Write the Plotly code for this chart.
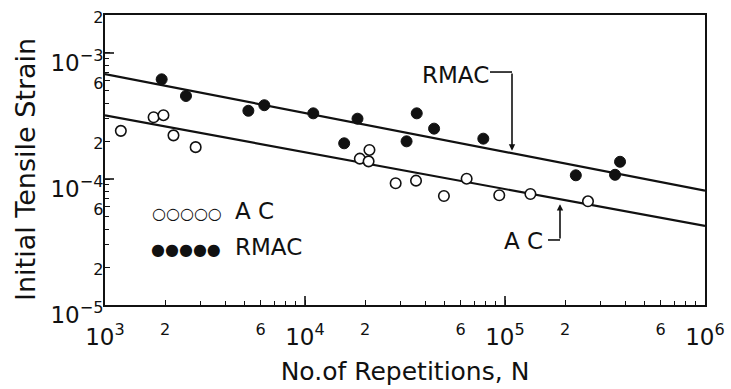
import plotly.graph_objects as go
import math

# ---- data ----
ac_N = [1200, 1750, 1960, 2200, 2840, 18800, 21000, 20800, 28400, 35900, 49500, 64300, 93600, 134000, 260000]
ac_eps = [2.41e-4, 3.09e-4, 3.21e-4, 2.22e-4, 1.79e-4, 1.45e-4, 1.70e-4, 1.38e-4, 9.25e-5, 9.70e-5,
          7.33e-5, 1.005e-4, 7.43e-5, 7.60e-5, 6.65e-5]

rmac_N = [1920, 2540, 5210, 6260, 11000, 15700, 18300, 32200, 36200, 44200, 77900, 226000, 355000, 376000]
rmac_eps = [6.18e-4, 4.56e-4, 3.48e-4, 3.85e-4, 3.32e-4, 1.92e-4, 3.01e-4, 1.99e-4, 3.32e-4, 2.51e-4,
            2.09e-4, 1.07e-4, 1.08e-4, 1.37e-4]

fit_N = [1e3, 1e6]
rmac_fit = [6.8e-4, 8.07e-5]
ac_fit = [3.2e-4, 4.24e-5]

x_tickvals = [1e3, 2e3, 6e3, 1e4, 2e4, 6e4, 1e5, 2e5, 6e5, 1e6]
x_ticktext = ["10<sup>3</sup>", "<sup>2</sup>", "<sup>6</sup>", "10<sup>4</sup>", "<sup>2</sup>",
              "<sup>6</sup>", "10<sup>5</sup>", "<sup>2</sup>", "<sup>6</sup>", "10<sup>6</sup>"]
y_tickvals = [1e-5, 2e-5, 6e-5, 1e-4, 2e-4, 6e-4, 1e-3, 2e-3]
y_ticktext = ["10<sup>−5</sup>", "<sup>2</sup>", "<sup>6</sup>", "10<sup>−4</sup>", "<sup>2</sup>",
              "<sup>6</sup>", "10<sup>−3</sup>", "<sup>2</sup>"]

x_minor = [m * 10 ** d for d in (3, 4, 5) for m in range(2, 10)]
y_minor = [m * 10 ** d for d in (-5, -4, -3) for m in range(2, 10) if m * 10 ** d <= 2e-3]

INK = "#111111"
FONT = "DejaVu Sans"

# plot-area geometry (pixels) used only for placing the hand-drawn legend / titles
L, R, T, B = 105, 26, 15, 84
PW, PH = 731 - L - R, 389 - T - B

fig = go.Figure()
fig.add_trace(go.Scatter(x=fit_N, y=rmac_fit, mode="lines", line=dict(color=INK, width=2.2),
                         showlegend=False, hoverinfo="skip"))
fig.add_trace(go.Scatter(x=fit_N, y=ac_fit, mode="lines", line=dict(color=INK, width=2.2),
                         showlegend=False, hoverinfo="skip"))
fig.add_trace(go.Scatter(x=ac_N, y=ac_eps, mode="markers", name="A C",
                         marker=dict(symbol="circle", size=10.5, color="white",
                                     line=dict(color=INK, width=1.6)),
                         showlegend=False))
fig.add_trace(go.Scatter(x=rmac_N, y=rmac_eps, mode="markers", name="RMAC",
                         marker=dict(symbol="circle", size=11, color=INK,
                                     line=dict(color=INK, width=1)),
                         showlegend=False))

def px_x(p):
    return (p - L) / PW

def px_y(p):
    return (389 - B - p) / PH

annotations = [
    dict(x=4.75, y=-3.175, xref="x", yref="y", text="RMAC", showarrow=False,
         font=dict(size=23, color=INK, family=FONT)),
    dict(x=5.035, y=-3.775, xref="x", yref="y", ax=5.035, ay=-3.151, axref="x", ayref="y",
         text="", showarrow=True, arrowhead=2, arrowsize=0.8, arrowwidth=1.6, arrowcolor=INK,
         standoff=0, startstandoff=0),
    dict(x=5.09, y=-4.492, xref="x", yref="y", text="A C", showarrow=False,
         font=dict(size=23, color=INK, family=FONT)),
    dict(x=5.275, y=-4.2, xref="x", yref="y", ax=5.275, ay=-4.484, axref="x", ayref="y",
         text="", showarrow=True, arrowhead=2, arrowsize=0.8, arrowwidth=1.6, arrowcolor=INK,
         standoff=0, startstandoff=0),
    # legend
    dict(x=px_x(150), y=px_y(225), xref="paper", yref="paper", text="○○○○○", xanchor="left",
         showarrow=False, font=dict(size=16, color=INK, family=FONT)),
    dict(x=px_x(233), y=px_y(226), xref="paper", yref="paper", text="A C",
         xanchor="left", showarrow=False, font=dict(size=23, color=INK, family=FONT)),
    dict(x=px_x(149), y=px_y(261), xref="paper", yref="paper", text="●●●●●", xanchor="left",
         showarrow=False, font=dict(size=16, color=INK, family=FONT)),
    dict(x=px_x(233), y=px_y(262), xref="paper", yref="paper", text="RMAC",
         xanchor="left", showarrow=False, font=dict(size=23, color=INK, family=FONT)),
    # y-axis title
    dict(x=px_x(25), y=px_y(170), xref="paper", yref="paper", text="Initial Tensile Strain",
         textangle=-90, xanchor="center", yanchor="middle", showarrow=False,
         font=dict(size=27, color=INK, family=FONT)),
]

shapes = [
    dict(type="line", xref="x", yref="y", x0=10 ** 4.925, x1=10 ** 5.035, y0=10 ** -3.151, y1=10 ** -3.151,
         line=dict(color=INK, width=1.6)),
    dict(type="line", xref="x", yref="y", x0=10 ** 5.215, x1=10 ** 5.275, y0=10 ** -4.484, y1=10 ** -4.484,
         line=dict(color=INK, width=1.6)),
]
for d in (-4, -3):
    shapes.append(dict(type="line", xref="paper", yref="y", x0=0, x1=9 / PW, y0=10 ** d, y1=10 ** d,
                       line=dict(color=INK, width=1.6)))
for d in (4, 5):
    shapes.append(dict(type="line", xref="x", yref="paper", x0=10 ** d, x1=10 ** d, y0=0, y1=9 / PH,
                       line=dict(color=INK, width=1.6)))

axis_common = dict(type="log", showgrid=False, zeroline=False, showline=True, linecolor=INK,
                   linewidth=2, mirror=True, ticks="inside", ticklen=5, tickwidth=1.3,
                   tickcolor=INK, automargin=False, ticklabeloverflow="allow",
                   tickfont=dict(size=23, color=INK, family=FONT))

fig.update_layout(
    width=731, height=389,
    margin=dict(l=L, r=R, t=T, b=B),
    paper_bgcolor="white", plot_bgcolor="white",
    showlegend=False,
    xaxis=dict(axis_common, range=[3, 6], tickmode="array", tickvals=x_tickvals, ticktext=x_ticktext,
               ticklabelstandoff=10,
               minor=dict(tickvals=x_minor, ticks="inside", ticklen=4, tickcolor=INK, tickwidth=1.2),
               title=dict(text="No.of Repetitions, N", font=dict(size=25, color=INK, family=FONT),
                          standoff=14)),
    yaxis=dict(axis_common, range=[-5, math.log10(2e-3) + 0.0005], tickmode="array", tickvals=y_tickvals,
               ticktext=y_ticktext, ticklabelshift=10, ticklabelstandoff=-5,
               minor=dict(tickvals=y_minor, ticks="inside", ticklen=4, tickcolor=INK, tickwidth=1.2)),
    annotations=annotations,
    shapes=shapes,
)

fig.write_html("out.html", config={"displayModeBar": False},
               post_script="document.body.style.margin='0';")
